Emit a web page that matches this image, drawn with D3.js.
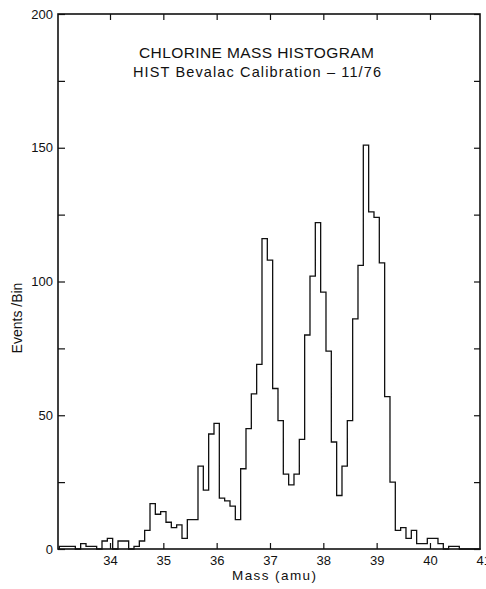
<!DOCTYPE html>
<html>
<head>
<meta charset="utf-8">
<script src="https://cdnjs.cloudflare.com/ajax/libs/d3/7.8.5/d3.min.js"></script>
<style>
  body { margin: 0; background: #fff; }
  svg { display: block; }
</style>
</head>
<body>
<div id="chart"></div>
<script>

// lower edge of each 0.1 amu bin
var binLo = [
    33.05, 33.15, 33.25, 33.35, 33.45, 33.55, 33.65, 33.75, 33.85, 33.95,
    34.05, 34.15, 34.25, 34.35, 34.45, 34.55, 34.65, 34.75, 34.85, 34.95,
    35.05, 35.15, 35.25, 35.35, 35.45, 35.55, 35.65, 35.75, 35.85, 35.95,
    36.05, 36.15, 36.25, 36.35, 36.45, 36.55, 36.65, 36.75, 36.85, 36.95,
    37.05, 37.15, 37.25, 37.35, 37.45, 37.55, 37.65, 37.75, 37.85, 37.95,
    38.05, 38.15, 38.25, 38.35, 38.45, 38.55, 38.65, 38.75, 38.85, 38.95,
    39.05, 39.15, 39.25, 39.35, 39.45, 39.55, 39.65, 39.75, 39.85, 39.95,
    40.05, 40.15, 40.25, 40.35, 40.45, 40.55, 40.65, 40.75, 40.85
];
var binWidth = 0.1;

// events per bin
var events = [
    1, 1, 1, 0, 2, 1, 1, 0, 3, 4,
    0, 3, 3, 0, 1, 3, 7, 17, 13, 14,
    10, 8, 9, 4, 11, 11, 31, 22, 43, 47,
    19, 18, 16, 11, 30, 45, 58, 69, 116, 108,
    60, 48, 28, 24, 28, 41, 80, 102, 122, 96,
    74, 40, 20, 31, 48, 86, 106, 151, 126, 124,
    107, 57, 25, 7, 8, 4, 7, 2, 2, 4,
    4, 2, 0, 1, 1, 0, 0, 0, 0
];

var xTicks = [34, 35, 36, 37, 38, 39, 40, 41];
var yTicks = [0, 25, 50, 75, 100, 125, 150, 175, 200];

var titleLines = ['CHLORINE MASS HISTOGRAM', 'HIST Bevalac Calibration \u2013 11/76'];

var drawChart = function() {

    var W = 486, H = 589;
    var mLeft = 58, mRight = 480, mTop = 14, mBottom = 549;
    var font = '"Liberation Sans", Arial, sans-serif';

    var svg = d3.select('#chart').append('svg')
        .attr('width', W)
        .attr('height', H);

    // 34 -> 110px, 53.33 px per amu
    var x = d3.scaleLinear().domain([33, 41]).range([56.67, 56.67 + 8 * 53.33]);
    var y = d3.scaleLinear().domain([0, 200]).range([mBottom, mTop]);

    /* histogram steps */
    var pts = [{ x: binLo[0], y: 0 }];
    binLo.forEach(function(b, i) {
        pts.push({ x: b, y: events[i] });
    });
    var last = binLo.length - 1;
    pts.push({ x: binLo[last] + binWidth, y: events[last] });

    var line = d3.line()
        .x(function(d) { return x(d.x); })
        .y(function(d) { return y(d.y); })
        .curve(d3.curveStepAfter);

    svg.append('path')
        .datum(pts)
        .attr('d', line)
        .attr('fill', 'none')
        .attr('stroke', '#111')
        .attr('stroke-width', 1.3);

    /* axes, ticks pointing inward */
    var gb = svg.append('g')
        .attr('transform', 'translate(0,' + mBottom + ')')
        .call(d3.axisBottom(x).tickValues(xTicks).tickSize(-6).tickSizeOuter(0).tickPadding(7));
    gb.selectAll('.tick line').filter(function(d) { return d > 40.5; }).remove();

    var gt = svg.append('g')
        .attr('transform', 'translate(0,' + mTop + ')')
        .call(d3.axisTop(x).tickValues(xTicks.slice(0, 7)).tickSize(-6).tickSizeOuter(0).tickFormat(''));

    var gl = svg.append('g')
        .attr('transform', 'translate(' + mLeft + ',0)')
        .call(d3.axisLeft(y).tickValues(yTicks).tickSize(-7).tickSizeOuter(0).tickPadding(5)
            .tickFormat(function(d) { return d % 50 === 0 ? d : ''; }));

    var gr = svg.append('g')
        .attr('transform', 'translate(' + mRight + ',0)')
        .call(d3.axisRight(y).tickValues(yTicks).tickSize(-6).tickSizeOuter(0).tickFormat(''));

    [gb, gt, gl, gr].forEach(function(g) {
        g.select('.domain').remove();
        g.attr('font-family', font).attr('font-size', 13);
        g.selectAll('.tick line').attr('stroke', '#111').attr('stroke-width', 1.2);
        g.selectAll('.tick text').attr('fill', '#111');
    });

    /* frame */
    svg.append('rect')
        .attr('x', mLeft)
        .attr('y', mTop)
        .attr('width', mRight - mLeft)
        .attr('height', mBottom - mTop)
        .attr('fill', 'none')
        .attr('stroke', '#111')
        .attr('stroke-width', 1.6);

    /* titles */
    svg.append('text')
        .attr('x', 256.5)
        .attr('y', 58)
        .attr('text-anchor', 'middle')
        .attr('font-family', font)
        .attr('font-size', 15.5)
        .attr('textLength', 235)
        .attr('lengthAdjust', 'spacing')
        .attr('fill', '#111')
        .text(titleLines[0]);

    svg.append('text')
        .attr('x', 257)
        .attr('y', 77)
        .attr('text-anchor', 'middle')
        .attr('font-family', font)
        .attr('font-size', 14.5)
        .attr('textLength', 248)
        .attr('lengthAdjust', 'spacing')
        .attr('fill', '#111')
        .text(titleLines[1]);

    /* axis labels */
    svg.append('text')
        .attr('x', 274)
        .attr('y', 580)
        .attr('text-anchor', 'middle')
        .attr('font-family', font)
        .attr('font-size', 13.5)
        .attr('textLength', 84)
        .attr('lengthAdjust', 'spacing')
        .attr('fill', '#111')
        .text('Mass (amu)');

    svg.append('text')
        .attr('transform', 'translate(22,318) rotate(-90)')
        .attr('text-anchor', 'middle')
        .attr('font-family', font)
        .attr('font-size', 14)
        .attr('fill', '#111')
        .text('Events /Bin');
}

drawChart();

</script>
</body>
</html>
